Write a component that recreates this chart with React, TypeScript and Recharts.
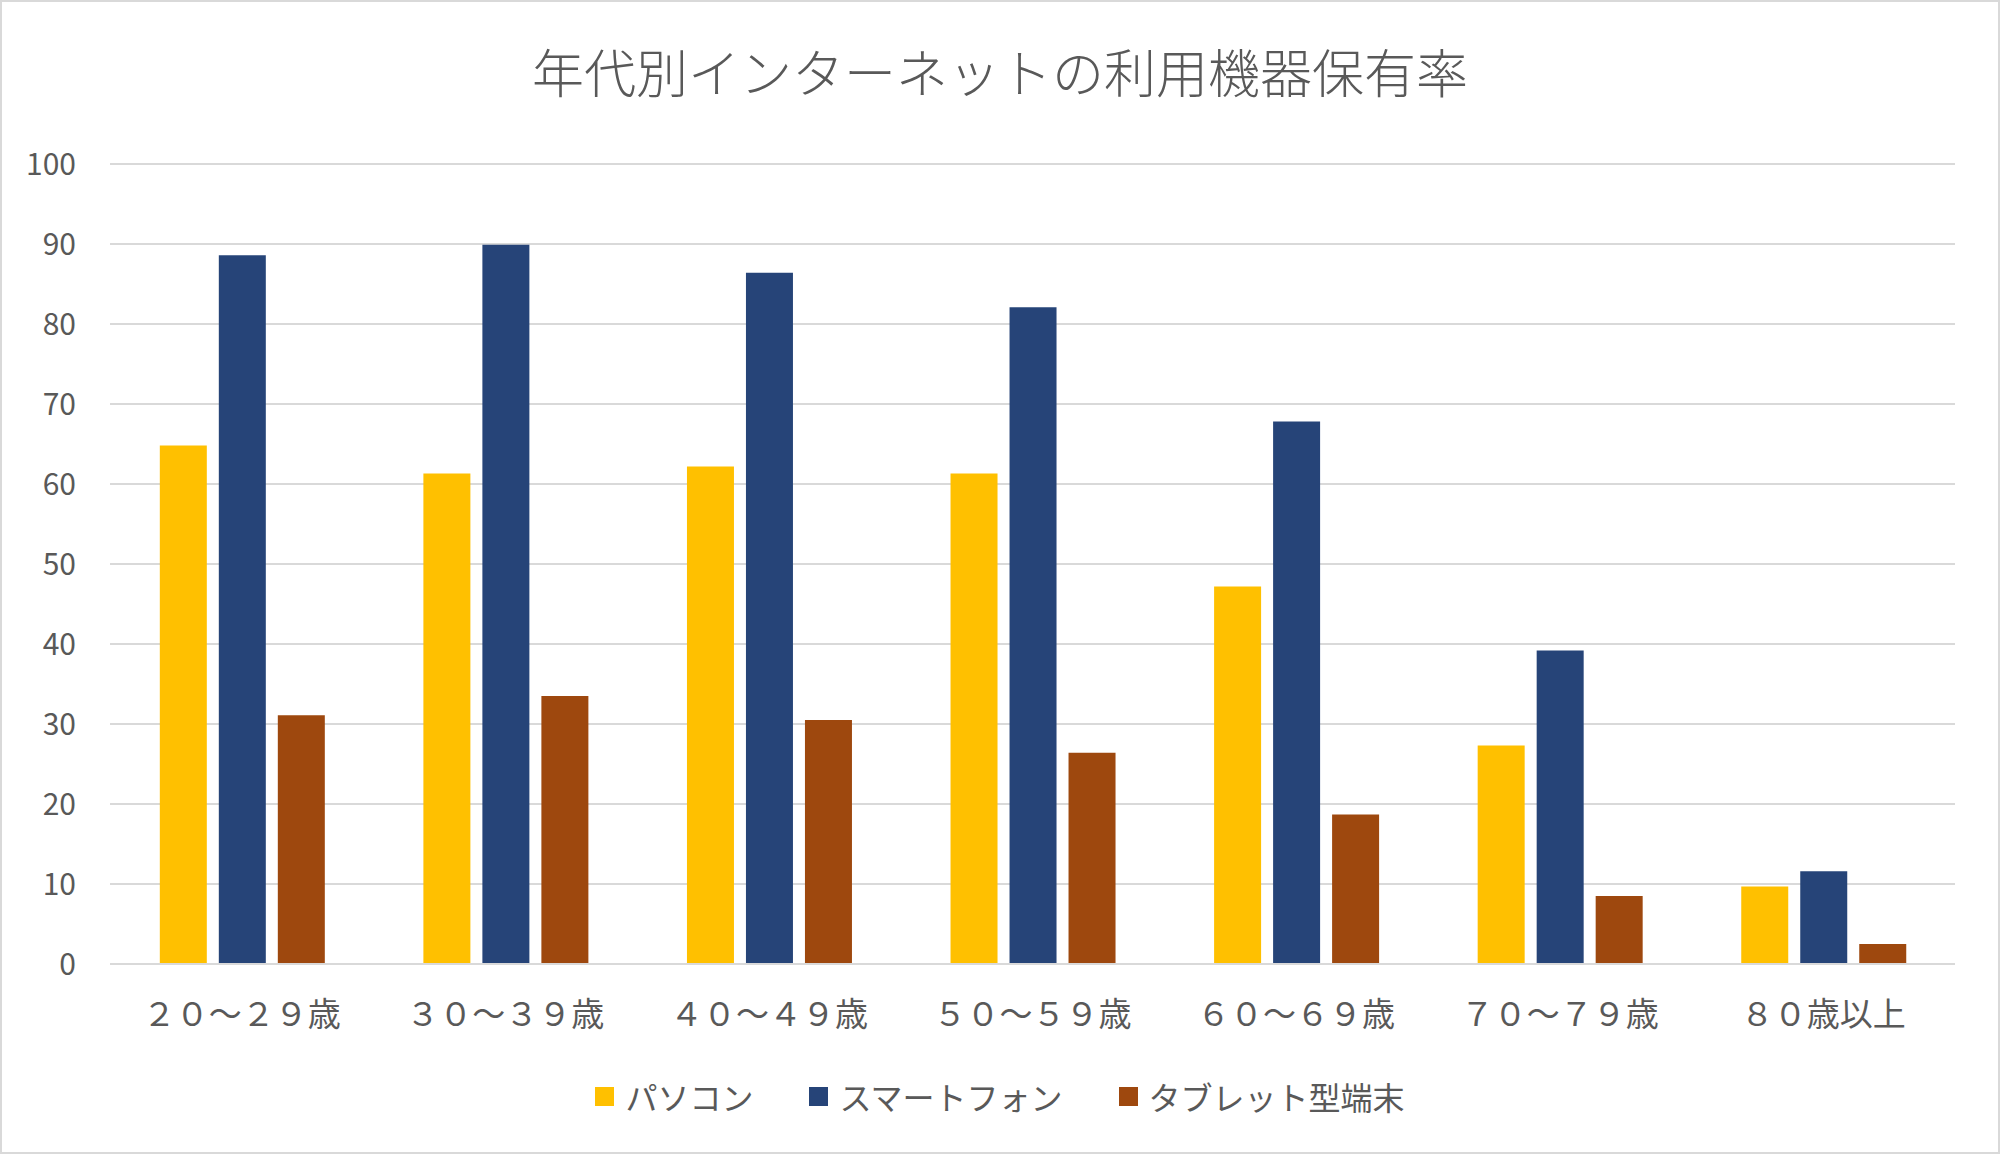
import { Bar, BarChart, CartesianGrid, XAxis, YAxis } from "recharts";

const categories = [
  "２０～２９歳",
  "３０～３９歳",
  "４０～４９歳",
  "５０～５９歳",
  "６０～６９歳",
  "７０～７９歳",
  "８０歳以上",
];

const pc = [64.8, 61.3, 62.2, 61.3, 47.2, 27.3, 9.7];
const smartphone = [88.6, 89.9, 86.4, 82.1, 67.8, 39.2, 11.6];
const tablet = [31.1, 33.5, 30.5, 26.4, 18.7, 8.5, 2.5];

const seriesNames = ["パソコン", "スマートフォン", "タブレット型端末"];
const seriesColors = ["#FFC000", "#264478", "#9E480E"];
const yTicks = [0, 10, 20, 30, 40, 50, 60, 70, 80, 90, 100];

const title = "年代別インターネットの利用機器保有率";

const data = categories.map((c, i) => ({
  name: c,
  s0: pc[i],
  s1: smartphone[i],
  s2: tablet[i],
}));

const FONT = '"Noto Sans CJK JP", "Noto Sans", sans-serif';
const TEXT = "#595959";
const GRID = "#d9d9d9";

export default function App() {
  return (
    <div
      style={{
        position: "fixed",
        top: 0,
        left: 0,
        width: 2000,
        height: 1154,
        boxSizing: "border-box",
        border: `2px solid ${GRID}`,
        background: "#fff",
        fontFamily: FONT,
      }}
    >
      <div
        style={{
          position: "absolute",
          top: 36,
          left: 0,
          width: "100%",
          textAlign: "center",
          fontSize: 52,
          fontWeight: 300,
          color: TEXT,
          lineHeight: "66px",
        }}
      >
        {title}
      </div>

      <div style={{ position: "absolute", top: -2, left: -2 }}>
        <BarChart
          width={2000}
          height={1154}
          data={data}
          margin={{ top: 164, right: 45, bottom: 130, left: 0 }}
          barCategoryGap="18.9%"
          barGap={12}
        >
          <CartesianGrid vertical={false} stroke={GRID} strokeWidth={2} />
          <XAxis
            dataKey="name"
            height={60}
            axisLine={{ stroke: GRID, strokeWidth: 2 }}
            tickLine={false}
            tickSize={0}
            tickMargin={39}
            tick={{ fill: TEXT, fontSize: 33, fontFamily: FONT }}
            interval={0}
          />
          <YAxis
            domain={[0, 100]}
            ticks={yTicks}
            width={110}
            axisLine={false}
            tickLine={false}
            tickSize={0}
            tickMargin={34}
            tick={{ fill: TEXT, fontSize: 30, fontFamily: FONT }}
          />
          {seriesNames.map((n, i) => (
            <Bar
              key={n}
              dataKey={`s${i}`}
              name={n}
              fill={seriesColors[i]}
              isAnimationActive={false}
            />
          ))}
        </BarChart>
      </div>

      <div
        style={{
          position: "absolute",
          top: 1074,
          left: 0,
          width: "100%",
          display: "flex",
          justifyContent: "center",
          alignItems: "center",
          fontSize: 32,
          color: TEXT,
          lineHeight: "40px",
        }}
      >
        {seriesNames.map((n, i) => (
          <div
            key={n}
            style={{
              display: "flex",
              alignItems: "center",
              marginRight: i < seriesNames.length - 1 ? 56 : 0,
            }}
          >
            <span
              style={{
                display: "inline-block",
                width: 19,
                height: 19,
                background: seriesColors[i],
                marginRight: 11,
              }}
            />
            <span>{n}</span>
          </div>
        ))}
      </div>
    </div>
  );
}
